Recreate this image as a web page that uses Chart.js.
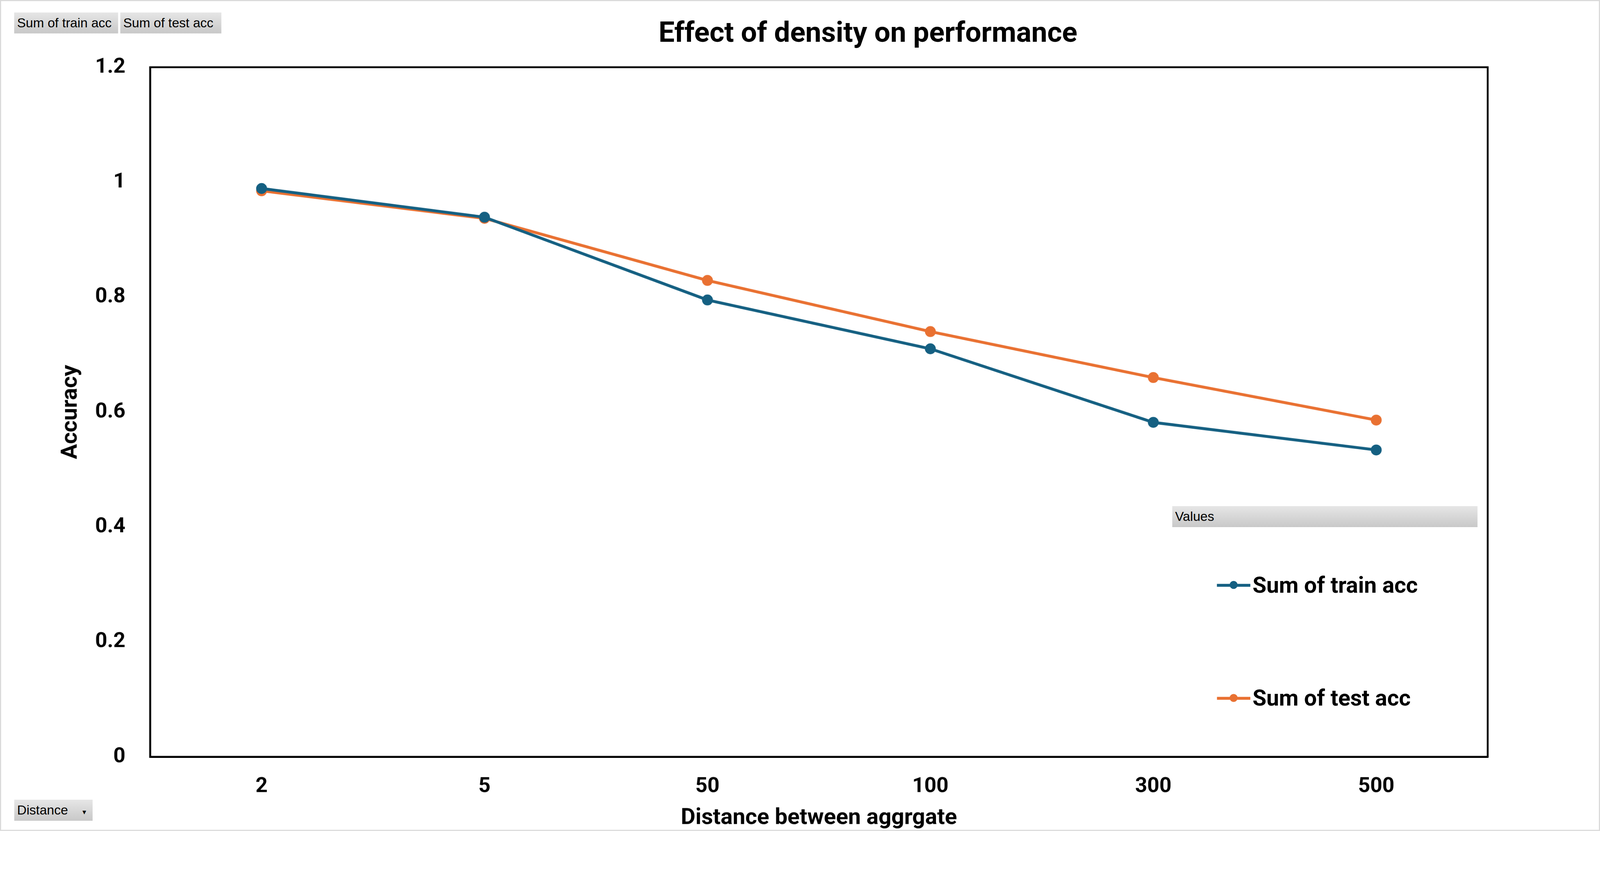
<!DOCTYPE html>
<html><head><meta charset="utf-8">
<script src="https://cdn.jsdelivr.net/npm/chart.js@4.4.0/dist/chart.umd.min.js"></script>
<style>
html,body{margin:0;padding:0;background:#fff;font-family:"Liberation Sans",Arial,sans-serif;overflow:hidden;}
#wrap{position:relative;width:4402px;height:2287px;box-sizing:border-box;border:3px solid #d9d9d9;overflow:hidden;transform-origin:0 0;}
canvas{position:absolute;left:0;top:0;}
.btn{position:absolute;height:58px;line-height:58px;font-size:36px;color:#000;padding-left:8px;box-sizing:border-box;
 background:linear-gradient(#e6e6e6,#c8c8c8);}
#title{position:absolute;left:0;width:4770px;text-align:center;top:40px;font-family:Roboto,"Liberation Sans";font-weight:bold;font-size:78px;}
.leg{position:absolute;font-family:Roboto,"Liberation Sans";font-weight:bold;font-size:62px;line-height:70px;}
.leg i{display:inline-block;width:92px;height:8px;vertical-align:middle;position:relative;margin-right:6px;top:-4px}
.leg i b{position:absolute;left:35px;top:-8px;width:22px;height:22px;border-radius:50%;}
</style></head><body>
<div id="wrap">
<canvas id="c" width="4402" height="2287"></canvas>
<div id="title">Effect of density on performance</div>
<div class="btn" style="left:36px;top:31px;width:286px">Sum of train acc</div>
<div class="btn" style="left:328px;top:31px;width:278px">Sum of test acc</div>
<div class="btn" style="left:3222px;top:1390px;width:840px">Values</div>
<div class="btn" style="left:36px;top:2198px;width:216px">Distance <span style="font-size:20px;margin-left:30px">▾</span></div>
<div class="leg" style="left:3345px;top:1572px"><i style="background:#156082"><b style="background:#156082"></b></i>Sum of train acc</div>
<div class="leg" style="left:3345px;top:1883px"><i style="background:#e97132"><b style="background:#e97132"></b></i>Sum of test acc</div>
</div>
<script>
const categories = ['2', '5', '50', '100', '300', '500'];
const trainAcc = [0.989, 0.939, 0.795, 0.710, 0.582, 0.534];
const testAcc = [0.985, 0.937, 0.829, 0.740, 0.660, 0.586];

// fit the fixed-size page into whatever viewport we get
const k = Math.min(window.innerWidth / 4402, window.innerHeight / 2287);
document.getElementById('wrap').style.transform = 'scale(' + k + ')';

const frame = {
  id: 'frame',
  afterDraw(chart) {
    const a = chart.chartArea, ctx = chart.ctx;
    ctx.save();
    ctx.strokeStyle = '#000';
    ctx.lineWidth = 5;
    ctx.strokeRect(a.left, a.top, a.right - a.left, a.bottom - a.top);
    ctx.restore();
  }
};

const tickFont = { family: 'Roboto', weight: 'bold', size: 58 };
new Chart(document.getElementById('c'), {
  type: 'line',
  data: {
    labels: categories,
    datasets: [
      { label: 'Sum of train acc', data: trainAcc, borderColor: '#156082', backgroundColor: '#156082',
        borderWidth: 8, pointRadius: 11, pointHoverRadius: 11, tension: 0 },
      { label: 'Sum of test acc', data: testAcc, borderColor: '#e97132', backgroundColor: '#e97132',
        borderWidth: 8, pointRadius: 11, pointHoverRadius: 11, tension: 0 }
    ]
  },
  options: {
    responsive: false,
    animation: false,
    devicePixelRatio: 1,
    layout: { padding: { top: 182, right: 312, bottom: 0, left: 155 } },
    plugins: { legend: { display: false }, title: { display: false }, tooltip: { enabled: false } },
    scales: {
      x: {
        offset: true,
        grid: { display: false },
        border: { color: '#000', width: 5 },
        ticks: { color: '#000', font: tickFont, padding: 40 },
        title: { display: true, text: 'Distance between aggrgate', color: '#000', font: { family: 'Roboto', weight: 'bold', size: 62 }, padding: 0 },
        afterFit(s) { s.height = 2287 - 2080; }
      },
      y: {
        min: 0, max: 1.2,
        grid: { display: false },
        border: { color: '#000', width: 5 },
        ticks: { color: '#000', font: tickFont, stepSize: 0.2, padding: 60,
          callback: v => Math.round(v * 10) / 10 },
        title: { display: true, text: 'Accuracy', color: '#000', font: { family: 'Roboto', weight: 'bold', size: 62 }, padding: 0 },
        afterFit(s) { s.width = 255; }
      }
    }
  },
  plugins: [frame]
});
</script>
</body></html>
